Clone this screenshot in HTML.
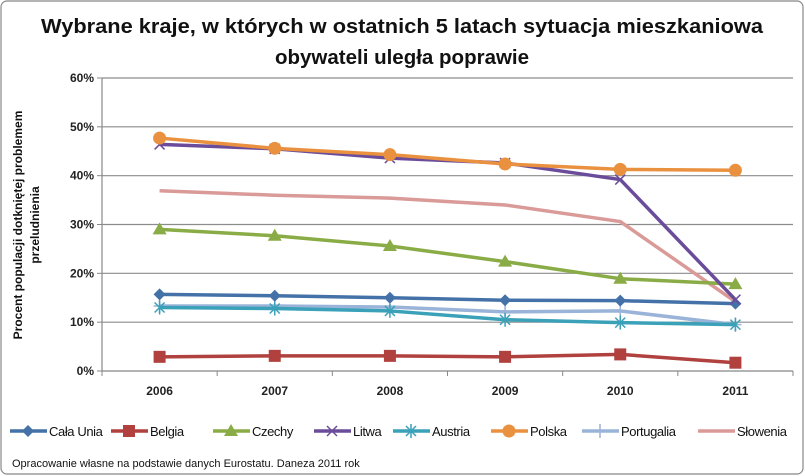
<!DOCTYPE html>
<html><head><meta charset="utf-8"><style>
body{margin:0;background:#fff;font-family:"Liberation Sans",sans-serif}
svg{display:block}
</style></head><body>
<svg id="c" width="805" height="476" xmlns="http://www.w3.org/2000/svg">
<rect x="1" y="1" width="802" height="473" rx="6" fill="#fff" stroke="#888" stroke-width="1.2"/>
<text x="402" y="33" text-anchor="middle" font-size="20.5" font-weight="bold" fill="#111" textLength="722" lengthAdjust="spacingAndGlyphs">Wybrane kraje, w których w ostatnich 5 latach sytuacja mieszkaniowa</text>
<text x="402" y="64" text-anchor="middle" font-size="20.5" font-weight="bold" fill="#111">obywateli uległa poprawie</text>
<text transform="translate(22,225) rotate(-90)" text-anchor="middle" font-size="12" font-weight="bold" fill="#111"><tspan x="0" dy="0">Procent populacji  dotkniętej problemem</tspan><tspan x="0" dy="17">przeludnienia</tspan></text>
<g id="grid"></g><g id="axes"></g><g id="series"></g><g id="legend"></g>
<text x="12" y="467" font-size="11" fill="#111">Opracowanie własne na podstawie danych Eurostatu. Daneza 2011 rok</text>
</svg>
<script>
const categories=["2006","2007","2008","2009","2010","2011"];
const yTicks=[0,10,20,30,40,50,60];
const yTickLabels=["0%","10%","20%","30%","40%","50%","60%"];
const seriesNames=["Cała Unia","Belgia","Czechy","Litwa","Austria","Polska","Portugalia","Słowenia"];
const calaUnia=[15.7,15.4,15.0,14.5,14.4,13.8];
const belgia=[2.9,3.1,3.1,2.9,3.4,1.7];
const czechy=[29.0,27.7,25.6,22.4,18.9,17.8];
const litwa=[46.4,45.5,43.6,42.6,39.2,14.6];
const austria=[13.0,12.8,12.3,10.5,9.9,9.5];
const polska=[47.7,45.6,44.3,42.4,41.3,41.1];
const portugalia=[13.3,13.3,13.1,12.1,12.3,9.5];
const slowenia=[36.9,36.0,35.4,34.0,30.6,14.2];
const allSeries=[calaUnia,belgia,czechy,litwa,austria,polska,portugalia,slowenia];
const colors=["#4472a8","#b0413e","#8aac46","#6b4c9a","#3aa1b9","#e9913f","#9ab3d8","#d99a98"];
const markers=["diamond","square","triangle","x","star","circle","plus","none"];
const L=102,R=793,T=78,B=371;
const NS="http://www.w3.org/2000/svg";
const cw=(R-L)/categories.length;
const xs=i=>L+cw*(i+0.5);
const ys=v=>B-(v/60)*(B-T);
function mk(tag,attrs,parent){const e=document.createElementNS(NS,tag);for(const k in attrs)e.setAttribute(k,attrs[k]);parent.appendChild(e);return e;}
const grid=document.getElementById('grid'),axes=document.getElementById('axes'),ser=document.getElementById('series'),leg=document.getElementById('legend');
yTicks.forEach((t,i)=>{
  const y=ys(t);
  if(t>0){const g=mk('line',{x1:L,x2:R,y1:y,y2:y,stroke:'#8c8c8c','stroke-width':1.2},grid);
  
  }
  const tk=mk('line',{x1:L-5,x2:L,y1:y,y2:y,stroke:'#888'},axes);
  
  
  const tx=mk('text',{x:L-8,y:y+4,'text-anchor':'end','font-size':12,'font-weight':'bold',fill:'#222'},axes);tx.textContent=yTickLabels[i];
  
  
});
const ya=mk('line',{x1:L,x2:L,y1:T,y2:B,stroke:'#888','stroke-width':1.2},axes);


const xa=mk('line',{x1:L,x2:R,y1:B,y2:B,stroke:'#888','stroke-width':1.2},axes);


for(let i=0;i<=categories.length;i++){const x=L+cw*i;const t=mk('line',{x1:x,x2:x,y1:B,y2:B+5,stroke:'#888'},axes);

}
categories.forEach((c,i)=>{const t=mk('text',{x:xs(i),y:B+24,'text-anchor':'middle','font-size':12,'font-weight':'bold',fill:'#222'},axes);t.textContent=c;

});
function marker(type,x,y,col,parent){
  let e;
  if(type==='diamond')e=mk('polygon',{points:`${x},${y-6} ${x+6},${y} ${x},${y+6} ${x-6},${y}`,fill:col},parent);
  else if(type==='square')e=mk('rect',{x:x-6,y:y-6,width:12,height:12,fill:col},parent);
  else if(type==='triangle')e=mk('polygon',{points:`${x},${y-7} ${x+7},${y+5} ${x-7},${y+5}`,fill:col},parent);
  else if(type==='circle')e=mk('circle',{cx:x,cy:y,r:6.5,fill:col},parent);
  else if(type==='x')e=mk('path',{d:`M${x-5} ${y-5}L${x+5} ${y+5}M${x-5} ${y+5}L${x+5} ${y-5}`,stroke:col,'stroke-width':1.5},parent);
  else if(type==='star')e=mk('path',{d:`M${x-5} ${y-5}L${x+5} ${y+5}M${x-5} ${y+5}L${x+5} ${y-5}M${x} ${y-7}L${x} ${y+7}`,stroke:col,'stroke-width':1.5},parent);
  else if(type==='plus')e=mk('path',{d:`M${x-6} ${y}L${x+6} ${y}M${x} ${y-7}L${x} ${y+7}`,stroke:col,'stroke-width':1.5},parent);
  return e;
}
const order=[7,6,4,1,0,2,3,5];
order.forEach(si=>{
  const g=mk('g',{},ser);
  
  
  const d=allSeries[si].map((v,i)=>(i?'L':'M')+xs(i)+' '+ys(v)).join('');
  const p=mk('path',{d:d,fill:'none',stroke:colors[si],'stroke-width':3.5,'stroke-linejoin':'round'},g);
  
  
  allSeries[si].forEach((v,i)=>{const m=marker(markers[si],xs(i),ys(v),colors[si],g);
    if(m){
    }});
});
const legX=[10,111,213,314,393,491,582,698];
seriesNames.forEach((n,i)=>{
  const g=mk('g',{},leg);
  
  
  const x=legX[i],y=431;
  mk('line',{x1:x,x2:x+37,y1:y,y2:y,stroke:colors[i],'stroke-width':3.5},g);
  marker(markers[i],x+18,y,colors[i],g);
  const t=mk('text',{x:x+39,y:y+5,'font-size':13,fill:'#111','letter-spacing':'-0.4'},g);t.textContent=n;
});
</script>
</body></html>
